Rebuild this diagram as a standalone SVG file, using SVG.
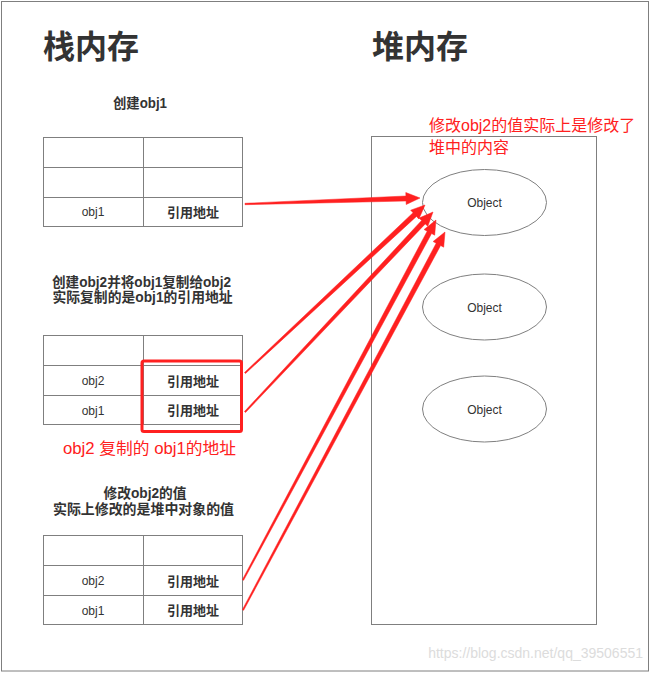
<svg xmlns="http://www.w3.org/2000/svg" width="652" height="673" viewBox="0 0 652 673">
<style>
text{font-family:"Liberation Sans","Noto Sans CJK SC",sans-serif;fill:#333333}
.title{font-size:32px;font-weight:bold}
.cap{font-size:14px;font-weight:bold;text-anchor:middle}
.cell{font-size:12px;text-anchor:middle}
.ref{font-size:13px;font-weight:bold;text-anchor:middle}
.red{font-size:16px;fill:#ff2020}
.obj{font-size:12px;text-anchor:middle}
.grid{fill:#ffffff;stroke:#7f7f7f;stroke-width:1}
.ell{fill:#ffffff;stroke:#7f7f7f;stroke-width:1}
.arrow{fill:#ff2020;stroke:#ff2020;stroke-width:0.5;stroke-linejoin:round}
</style>
<rect x="1.5" y="1.5" width="647" height="669.5" fill="#ffffff" stroke="#7f7f7f" stroke-width="1"/>

<g id="title-stack"><text class="title" x="43" y="58">栈内存</text></g>
<g id="title-heap"><text class="title" x="372" y="58">堆内存</text></g>

<g id="caption1"><text class="cap" x="140" y="108" textLength="54" lengthAdjust="spacingAndGlyphs">创建obj1</text></g>
<g id="table1">
<rect class="grid" x="43.5" y="137.5" width="100" height="30"/>
<rect class="grid" x="143.5" y="137.5" width="99" height="30"/>
<rect class="grid" x="43.5" y="167.5" width="100" height="30"/>
<rect class="grid" x="143.5" y="167.5" width="99" height="30"/>
<rect class="grid" x="43.5" y="197.5" width="100" height="29"/>
<rect class="grid" x="143.5" y="197.5" width="99" height="29"/>
<text class="cell" x="93" y="216">obj1</text>
<text class="ref" x="193" y="216.5">引用地址</text>
</g>

<g id="caption2">
<text class="cap" x="141.5" y="286.5" textLength="179" lengthAdjust="spacingAndGlyphs">创建obj2并将obj1复制给obj2</text>
<text class="cap" x="142.5" y="302" textLength="180" lengthAdjust="spacingAndGlyphs">实际复制的是obj1的引用地址</text>
</g>
<g id="table2">
<rect class="grid" x="43.5" y="335.5" width="100" height="30"/>
<rect class="grid" x="143.5" y="335.5" width="99" height="30"/>
<rect class="grid" x="43.5" y="365.5" width="100" height="30"/>
<rect class="grid" x="143.5" y="365.5" width="99" height="30"/>
<rect class="grid" x="43.5" y="395.5" width="100" height="29"/>
<rect class="grid" x="143.5" y="395.5" width="99" height="29"/>
<text class="cell" x="93" y="385">obj2</text>
<text class="ref" x="193" y="385.5">引用地址</text>
<text class="cell" x="93" y="414.5">obj1</text>
<text class="ref" x="193" y="415">引用地址</text>
</g>
<g id="highlight">
<rect x="142" y="361" width="99.5" height="70.5" rx="2" fill="none" stroke="#ff2020" stroke-width="3"/>
</g>
<g id="note-copy"><text class="red" x="63" y="454" textLength="173" lengthAdjust="spacingAndGlyphs">obj2 复制的 obj1的地址</text></g>

<g id="caption3">
<text class="cap" x="145" y="497.5" textLength="83" lengthAdjust="spacingAndGlyphs">修改obj2的值</text>
<text class="cap" x="143.5" y="513.5" textLength="181" lengthAdjust="spacingAndGlyphs">实际上修改的是堆中对象的值</text>
</g>
<g id="table3">
<rect class="grid" x="43.5" y="535.5" width="100" height="30"/>
<rect class="grid" x="143.5" y="535.5" width="99" height="30"/>
<rect class="grid" x="43.5" y="565.5" width="100" height="30"/>
<rect class="grid" x="143.5" y="565.5" width="99" height="30"/>
<rect class="grid" x="43.5" y="595.5" width="100" height="29"/>
<rect class="grid" x="143.5" y="595.5" width="99" height="29"/>
<text class="cell" x="93" y="585">obj2</text>
<text class="ref" x="193" y="585.5">引用地址</text>
<text class="cell" x="93" y="614.5">obj1</text>
<text class="ref" x="193" y="615">引用地址</text>
</g>

<g id="heap">
<rect class="grid" x="371.5" y="136.5" width="225" height="488"/>
</g>
<g id="note-heap">
<text class="red" x="429" y="131">修改obj2的值实际上是修改了</text>
<text class="red" x="429" y="152.5">堆中的内容</text>
</g>
<g id="object1"><ellipse class="ell" cx="484.5" cy="202.5" rx="62" ry="33"/><text class="obj" x="484.5" y="207">Object</text></g>
<g id="object2"><ellipse class="ell" cx="484.5" cy="307" rx="62" ry="33"/><text class="obj" x="484.5" y="311.5">Object</text></g>
<g id="object3"><ellipse class="ell" cx="484.5" cy="409" rx="62" ry="33"/><text class="obj" x="484.5" y="413.5">Object</text></g>

<g id="connectors">
<polygon class="arrow" points="244.98,203.3 405.91,196.0 405.79,192.5 420,198 406.21,204.5 406.09,201.0 245.02,204.7"/>
<polygon class="arrow" points="244.52,372.49 413.05,212.72 410.67,210.16 425,205 418.85,218.94 416.47,216.38 245.48,373.51"/>
<polygon class="arrow" points="244.49,411.52 421.59,220.49 419.04,218.09 433,212 427.78,226.31 425.23,223.91 245.51,412.48"/>
<polygon class="arrow" points="242.38,579.67 427.19,231.16 424.10,229.50 436,220 434.68,235.18 431.59,233.52 243.62,580.33"/>
<polygon class="arrow" points="242.38,609.67 436.20,243.17 433.11,241.52 445,232 443.69,247.18 440.61,245.53 243.62,610.33"/>
</g>

<text x="643" y="658" font-size="14" text-anchor="end" style="fill:#dcdcdc">https://blog.csdn.net/qq_39506551</text>
</svg>
